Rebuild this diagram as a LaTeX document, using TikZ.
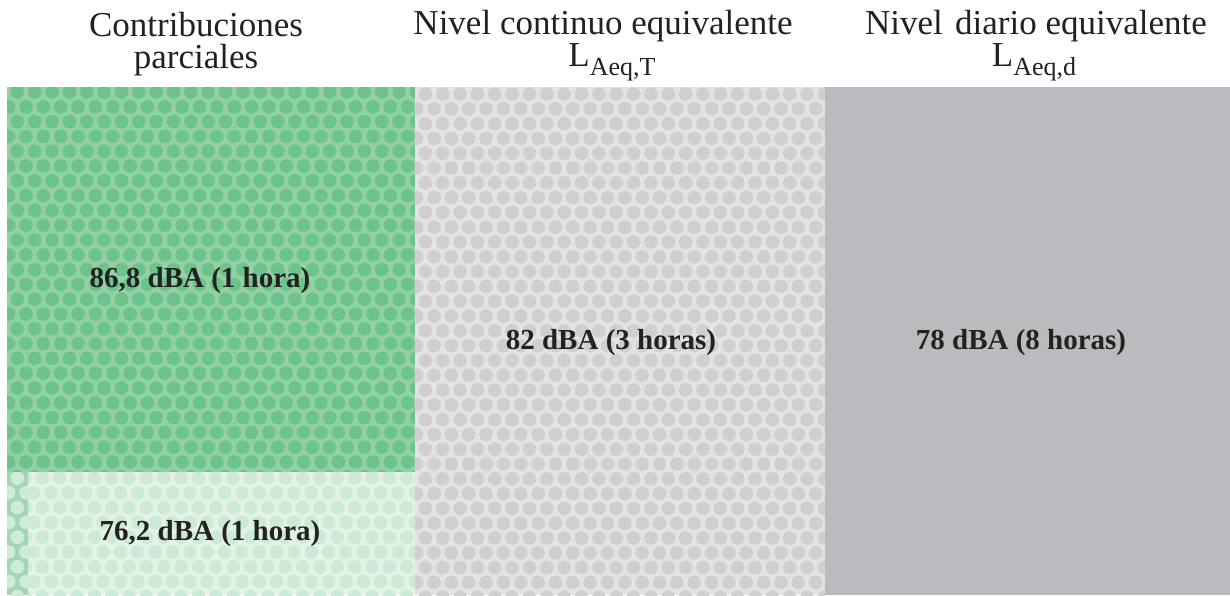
\documentclass[tikz,border=0pt]{standalone}
\usepackage{fontspec}
\setmainfont{Liberation Serif}
\definecolor{gbg}{RGB}{147,208,165}
\definecolor{gdot}{RGB}{109,196,138}
\definecolor{lgbg}{RGB}{227,243,232}
\definecolor{lgdot}{RGB}{205,234,214}
\definecolor{sgbg}{RGB}{163,214,178}
\definecolor{sgdot}{RGB}{208,236,217}
\definecolor{gybg}{RGB}{227,227,229}
\definecolor{gydot}{RGB}{207,207,210}
\definecolor{gysolid}{RGB}{187,187,191}
\definecolor{txt}{RGB}{34,34,34}
\newcommand{\dotgrid}[9]{%
  \begin{scope}
    \clip (#1,#2) rectangle (#3,#4);
    \foreach \i in {0,...,#9}{%
      \foreach \j in {0,...,#8}{%
        \fill[#5] ({#6 + \j*17.35 + mod(\i,2)*8.675}, {#7 + \i*14.8}) circle (6.8);
      }%
    }%
  \end{scope}}
\newcommand{\subtxt}[1]{\raisebox{-4.5pt}{\fontsize{13}{15}\selectfont #1}}
\begin{document}
\begin{tikzpicture}[x=0.5pt,y=-0.5pt,
  head/.style={anchor=center,align=center,inner sep=0pt,text=txt,font=\fontsize{17.5}{16}\selectfont},
  lab/.style={anchor=base,text=txt,font=\fontsize{14.5}{17}\selectfont\bfseries}]
\fill[white] (0,0) rectangle (1230,595);
\useasboundingbox (0,0) rectangle (1230,595);
% green upper block
\fill[gbg] (7,87) rectangle (415,472);
\dotgrid{7}{87}{415}{472}{gdot}{0}{92}{25}{27}
% light green lower block
\fill[lgbg] (28,472) rectangle (415,595);
\dotgrid{28}{472}{415}{595}{lgdot}{25}{478}{24}{9}
% left strip
\fill[sgbg] (7,472) rectangle (28,595);
\dotgrid{7}{472}{28}{595}{sgdot}{0}{478}{3}{9}
% grey dotted block
\fill[gybg] (415,87) rectangle (825,595);
\dotgrid{415}{87}{825}{595}{gydot}{408}{94}{25}{35}
% solid grey block
\fill[gysolid] (825,87) rectangle (1230,595);
% headers
\node[head] (h1) at (196,44) {Contribuciones\\parciales};
\node[head] (h2) at (603,46) {Nivel continuo equivalente\\\hspace*{9pt}L\subtxt{Aeq,T}};
\node[head] (h3) at (1036,46) {Nivel\hspace{0.35em}diario equivalente\\\hspace*{-2pt}L\subtxt{Aeq,d}};
% labels
\node[lab] (l1) at (200,287) {86,8 dBA (1 hora)};
\node[lab] (l2) at (210,540) {76,2 dBA (1 hora)};
\node[lab] (l3) at (611,349) {82 dBA (3 horas)};
\node[lab] (l4) at (1021,349) {78 dBA (8 horas)};
\end{tikzpicture}
\end{document}
